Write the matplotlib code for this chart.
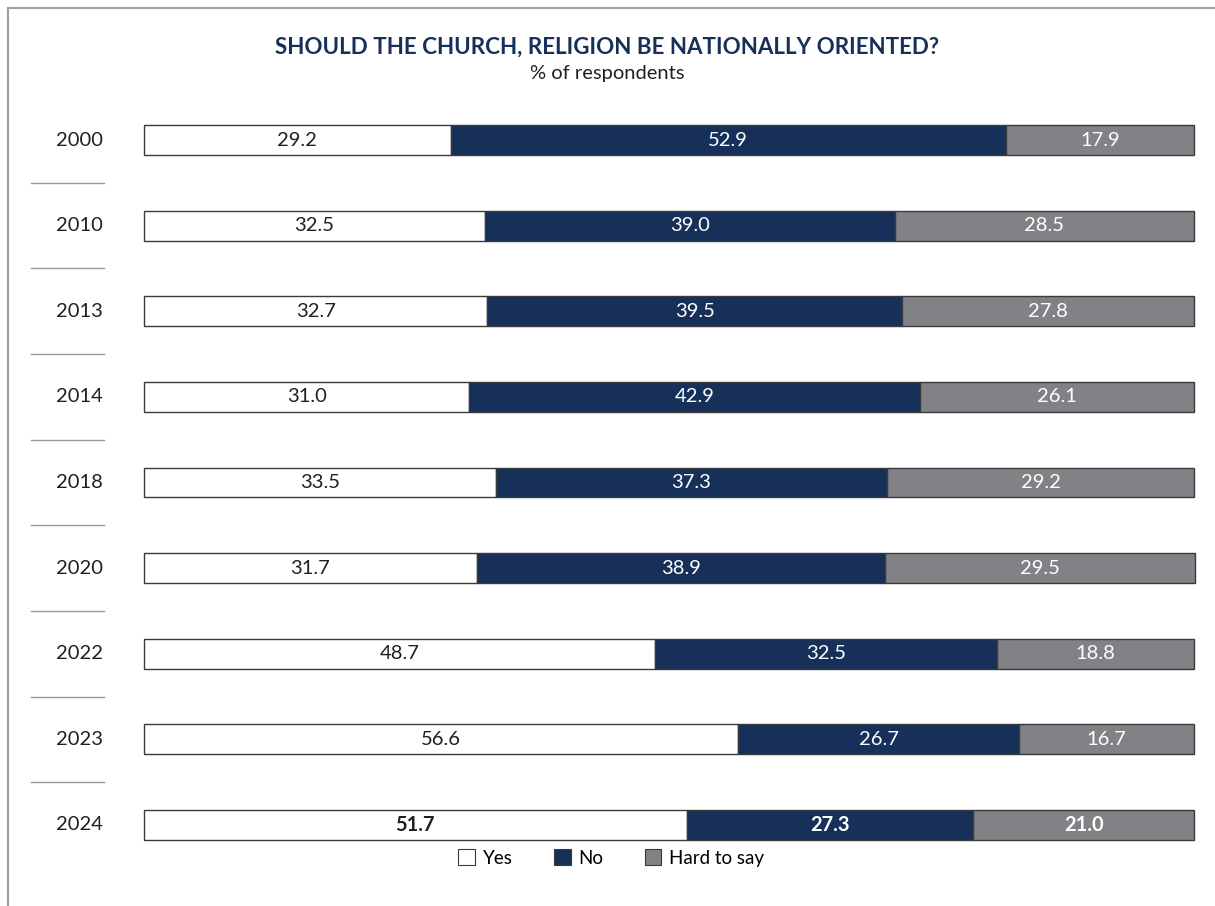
import matplotlib.pyplot as plt
from matplotlib.patches import Patch
from matplotlib.lines import Line2D
import matplotlib.transforms as mtransforms

years = ['2000', '2010', '2013', '2014', '2018', '2020', '2022', '2023', '2024']
yes = [29.2, 32.5, 32.7, 31.0, 33.5, 31.7, 48.7, 56.6, 51.7]
no = [52.9, 39.0, 39.5, 42.9, 37.3, 38.9, 32.5, 26.7, 27.3]
hard = [17.9, 28.5, 27.8, 26.1, 29.2, 29.5, 18.8, 16.7, 21.0]
series_names = ['Yes', 'No', 'Hard to say']

navy = '#17305a'
grey = '#808285'
colors = ['white', navy, grey]
text_colors = ['#231f20', 'white', 'white']

plt.rcParams['font.family'] = ['Lato', 'DejaVu Sans']

fig = plt.figure(figsize=(12.15, 9.06), dpi=100)
ax = fig.add_axes([0.1185, 0.0422, 0.8642, 0.8505])

rows = list(range(len(years)))
left = [0] * len(years)
for k, vals in enumerate([yes, no, hard]):
    bars = ax.barh(rows, vals, left=left, height=0.35, color=colors[k],
                   edgecolor='#3a3a3a', linewidth=1.0)
    for b in bars:
        b.set_clip_on(False)
    for i, v in enumerate(vals):
        bold = years[i] == '2024'
        ax.text(left[i] + v / 2, i, f'{v:.1f}', ha='center', va='center',
                fontsize=14.5, color=text_colors[k],
                fontweight='bold' if bold else 'normal')
    left = [a + b for a, b in zip(left, vals)]

ax.set_xlim(0, 100)
ax.set_ylim(len(years) - 0.5, -0.5)
ax.axis('off')

trans = mtransforms.blended_transform_factory(ax.transAxes, ax.transData)
for i, y in enumerate(years):
    ax.text(-0.061, i, y, transform=trans, ha='center', va='center',
            fontsize=14.5, color='#231f20')
for i in range(len(years) - 1):
    ax.add_line(Line2D([-0.1076, -0.0381], [i + 0.5, i + 0.5], transform=trans,
                       color='#9a9a9a', linewidth=1.0, clip_on=False))

# frame lines on top and left
fig.add_artist(Line2D([0.0066, 0.0066], [0.991, 0.0], color='#a0a0a0', linewidth=1.5))
fig.add_artist(Line2D([0.0066, 1.0], [0.991, 0.991], color='#a0a0a0', linewidth=1.5))

fig.text(0.5, 1 - 47 / 906, 'SHOULD THE CHURCH, RELIGION BE NATIONALLY ORIENTED?',
         ha='center', va='center', fontsize=16.1, fontweight='bold', color=navy)
fig.text(0.5, 1 - 73 / 906, '% of respondents', ha='center', va='center',
         fontsize=14.5, color='#231f20')

handles = [Patch(facecolor=c, edgecolor='#3a3a3a', linewidth=0.8) for c in colors]
fig.legend(handles, series_names, loc='center', bbox_to_anchor=(0.503, 1 - 858 / 906),
           ncol=3, frameon=False, fontsize=13.5, handlelength=0.9, handleheight=0.9,
           handletextpad=0.4, columnspacing=2.2)

fig.savefig('out.png', dpi=100)
